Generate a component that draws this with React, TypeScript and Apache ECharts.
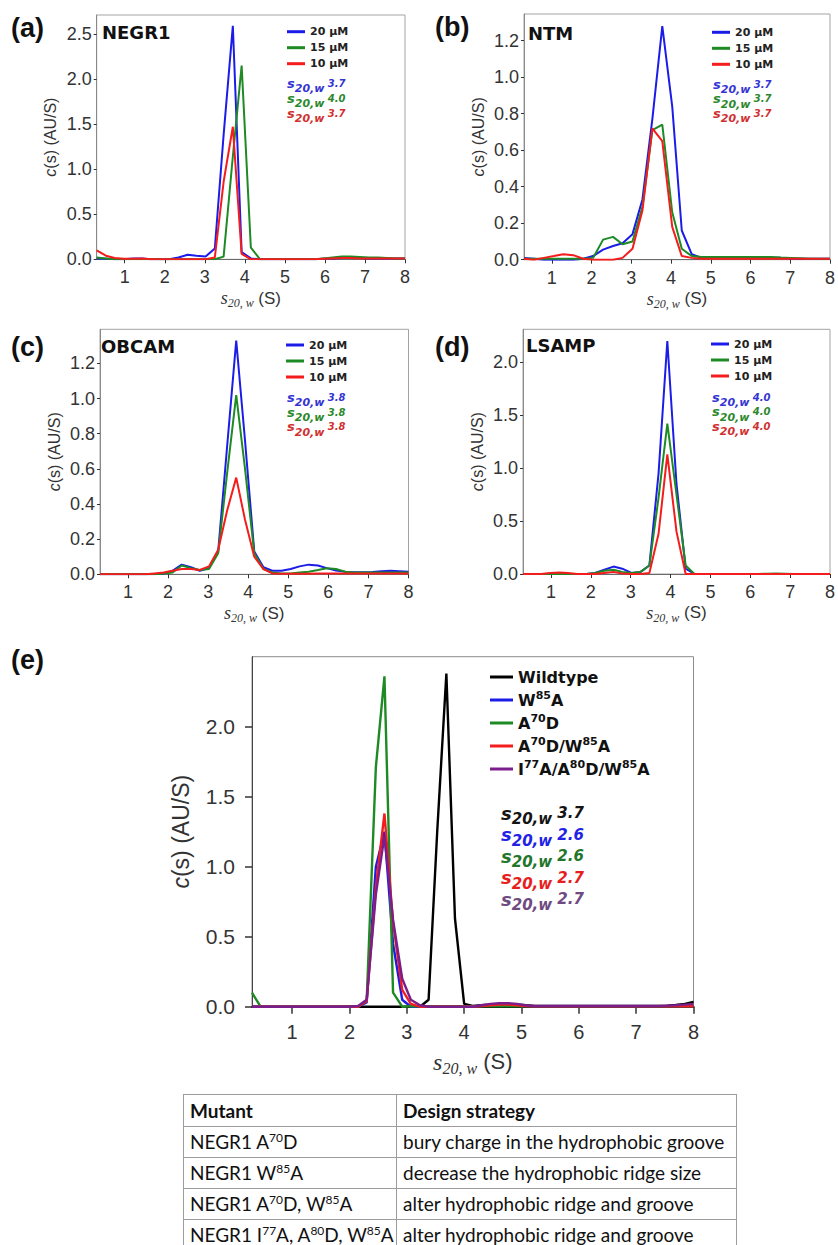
import React, { useEffect, useRef } from 'react';
import * as echarts from 'echarts';

// ---------- sedimentation-coefficient grids (S) ----------
const sGridFine = [0.30,0.53,0.75,0.98,1.21,1.43,1.66,1.89,2.11,2.34,2.57,2.79,3.02,3.25,3.47,3.70,3.92,4.15,4.38,4.60,4.83,5.06,5.28,5.51,5.74,5.96,6.19,6.42,6.64,6.87,7.10,7.32,7.55,7.77,8.00];
const sGridNtm = [0.30,0.55,0.80,1.05,1.29,1.54,1.79,2.04,2.29,2.54,2.78,3.03,3.28,3.53,3.78,4.03,4.27,4.52,4.77,5.02,5.27,5.52,5.76,6.01,6.26,6.51,6.76,7.01,7.25,7.50,7.75,8.00];
const sGridMut = [0.30,0.45,0.61,0.76,0.92,1.07,1.22,1.38,1.53,1.69,1.84,1.99,2.15,2.30,2.46,2.61,2.76,2.92,3.07,3.23,3.38,3.53,3.69,3.84,4.00,4.15,4.30,4.46,4.61,4.77,4.92,5.07,5.23,5.38,5.54,5.69,5.84,6.00,6.15,6.31,6.46,6.61,6.77,6.92,7.08,7.23,7.38,7.54,7.69,7.85,8.00];

// ---------- (a) NEGR1 ----------
const negr1_20 = [0.01,0.005,0,0,0.01,0.01,0,0,0,0.02,0.05,0.04,0.03,0.12,1.38,2.59,0.08,0.01,0,0,0,0,0,0,0,0.005,0.01,0.015,0.015,0.015,0.01,0.01,0.01,0.01,0.01];
const negr1_15 = [0.02,0.01,0,0,0,0,0,0,0,0,0,0,0,0,0.03,1.14,2.15,0.13,0,0,0,0,0,0,0,0.01,0.02,0.03,0.03,0.025,0.02,0.02,0.015,0.01,0.01];
const negr1_10 = [0.1,0.04,0.015,0.005,0.005,0.01,0,0,0,0,0,0,0,0.02,0.86,1.47,0.06,0,0,0,0,0,0,0,0,0.005,0.01,0.015,0.015,0.01,0.01,0.01,0.01,0.01,0.01];

// ---------- (b) NTM ----------
const ntm_20 = [0.01,0.005,0,0,0,0,0.005,0.02,0.055,0.075,0.09,0.14,0.33,0.77,1.28,0.84,0.16,0.03,0.01,0.01,0.01,0.01,0.01,0.01,0.01,0.01,0.01,0.005,0.005,0.005,0.005,0.005];
const ntm_15 = [0.005,0.005,0.005,0.005,0.005,0.005,0.005,0.01,0.11,0.125,0.085,0.1,0.29,0.71,0.74,0.26,0.06,0.02,0.015,0.015,0.015,0.015,0.015,0.015,0.015,0.015,0.012,0.01,0.008,0.005,0.005,0.005];
const ntm_10 = [0.005,0,0.01,0.02,0.03,0.025,0.005,0,0,0,0.01,0.06,0.27,0.72,0.65,0.18,0.02,0.01,0.005,0.005,0.005,0.005,0.005,0.005,0.005,0.005,0.005,0.005,0.005,0.005,0.005,0.005];

// ---------- (c) OBCAM ----------
const obcam_20 = [0,0,0,0,0,0,0.002,0.005,0.02,0.055,0.04,0.02,0.035,0.13,0.72,1.33,0.76,0.13,0.04,0.02,0.02,0.03,0.045,0.055,0.05,0.035,0.022,0.015,0.012,0.012,0.013,0.018,0.02,0.018,0.015];
const obcam_15 = [0,0,0,0,0,0,0,0.005,0.01,0.05,0.035,0.025,0.03,0.12,0.57,1.02,0.6,0.12,0.03,0.01,0.005,0.005,0.01,0.015,0.025,0.035,0.03,0.015,0.01,0.01,0.01,0.01,0.01,0.01,0.01];
const obcam_10 = [0,0,0,0,0,0,0.005,0.01,0.02,0.03,0.03,0.025,0.045,0.14,0.36,0.55,0.31,0.1,0.03,0.005,0.003,0.003,0.003,0.003,0.005,0.005,0.005,0.005,0.005,0.005,0.005,0.005,0.005,0.005,0.005];

// ---------- (d) LSAMP ----------
const lsamp_20 = [0,0,0,0,0,0,0,0,0.01,0.04,0.07,0.05,0.01,0.02,0.08,0.95,2.2,0.85,0.05,0,0,0,0,0,0,0,0,0,0,0,0,0,0,0,0];
const lsamp_15 = [0,0,0,0,0,0,0,0,0.01,0.03,0.04,0.02,0.01,0.02,0.08,0.72,1.42,0.75,0.08,0,0,0,0,0,0,0,0,0.003,0.005,0.003,0,0,0,0,0];
const lsamp_10 = [0,0,0,0.01,0.015,0.01,0,0,0,0.01,0.02,0.005,0,0,0.01,0.38,1.13,0.4,0,0,0,0,0,0,0,0,0,0,0,0,0,0,0,0,0];

// ---------- (e) NEGR1 mutants ----------
const wildtype = [0,0,0,0,0,0,0,0,0,0,0,0,0,0,0,0,0,0,0,0,0.05,1.25,2.38,0.63,0.02,0.005,0.01,0.015,0.02,0.02,0.015,0.01,0.005,0.005,0.005,0.005,0.005,0.005,0.005,0.005,0.005,0.005,0.005,0.005,0.005,0.005,0.005,0.008,0.012,0.02,0.035];
const w85a = [0,0,0,0,0,0,0,0,0,0,0,0,0,0.03,1.0,1.25,0.45,0.05,0,0,0,0,0,0,0,0,0.005,0.01,0.015,0.015,0.01,0.005,0.003,0.003,0.003,0.003,0.003,0.003,0.003,0.003,0.003,0.003,0.003,0.003,0.003,0.003,0.003,0.003,0.003,0.003,0.003];
const a70d = [0.1,0,0,0,0,0,0,0,0,0,0,0,0,0.04,1.71,2.36,0.1,0,0.003,0.003,0.003,0.003,0.003,0.003,0.003,0.003,0.003,0.003,0.003,0.003,0.003,0.003,0.003,0.003,0.003,0.003,0.003,0.003,0.003,0.003,0.003,0.003,0.003,0.003,0.003,0.003,0.003,0.003,0.003,0.003,0.003];
const a70d_w85a = [0,0,0,0,0,0,0,0,0,0,0,0,0,0.04,0.85,1.38,0.6,0.12,0.02,0,0,0,0,0,0,0,0.005,0.01,0.015,0.015,0.01,0.005,0.003,0.003,0.003,0.003,0.003,0.003,0.003,0.003,0.003,0.003,0.003,0.003,0.003,0.003,0.003,0.003,0.003,0.003,0.003];
const i77a_a80d_w85a = [0,0,0,0,0,0,0,0,0,0,0,0,0.005,0.05,0.8,1.22,0.62,0.2,0.05,0.01,0,0,0,0,0,0,0.01,0.02,0.025,0.025,0.02,0.01,0.005,0.005,0.005,0.005,0.005,0.005,0.005,0.005,0.005,0.005,0.005,0.005,0.005,0.005,0.005,0.008,0.01,0.015,0.02];

// ---------- ticks, labels ----------
const xTicks = [1, 2, 3, 4, 5, 6, 7, 8];
const yTicksA = [0, 0.5, 1, 1.5, 2, 2.5];
const yTicksB = [0, 0.2, 0.4, 0.6, 0.8, 1.0, 1.2];
const yTicksC = [0, 0.2, 0.4, 0.6, 0.8, 1.0, 1.2];
const yTicksD = [0, 0.5, 1, 1.5, 2];
const yTicksE = [0, 0.5, 1, 1.5, 2];

const concNames = ['20 μM', '15 μM', '10 μM'];
const mutantNames = ['Wildtype', 'W85A', 'A70D', 'A70D/W85A', 'I77A/A80D/W85A'];
const mutantLegendRich: Record<string, string> = {
  'Wildtype': 'Wildtype',
  'W85A': 'W{sup|85}A',
  'A70D': 'A{sup|70}D',
  'A70D/W85A': 'A{sup|70}D/W{sup|85}A',
  'I77A/A80D/W85A': 'I{sup|77}A/A{sup|80}D/W{sup|85}A',
};
const s20a = ['3.7', '4.0', '3.7'];
const s20b = ['3.7', '3.7', '3.7'];
const s20c = ['3.8', '3.8', '3.8'];
const s20d = ['4.0', '4.0', '4.0'];
const s20e = ['3.7', '2.6', '2.6', '2.7', '2.7'];

const tableHeader = ['Mutant', 'Design strategy'];
const tableMutants = [
  ['NEGR1 A', '^70', 'D'],
  ['NEGR1 W', '^85', 'A'],
  ['NEGR1 A', '^70', 'D, W', '^85', 'A'],
  ['NEGR1 I', '^77', 'A, A', '^80', 'D, W', '^85', 'A'],
];
const tableStrategies = [
  'bury charge in the hydrophobic groove',
  'decrease the hydrophobic ridge size',
  'alter hydrophobic ridge and groove',
  'alter hydrophobic ridge and groove',
];

// ---------- styles ----------
const C = { blue: '#1c1ce8', green: '#1e8a24', red: '#f41c1c', black: '#000000', purple: '#7a1e8c' };
const ANN = { blue: '#3434d2', green: '#2c882c', red: '#d03030', black: '#141414', purple: '#6e4a80', blueE: '#2222e6', greenE: '#22762a', redE: '#e61e1e' };
const SANS = 'Liberation Sans, Arial, sans-serif';
const VERD = 'DejaVu Sans, Verdana, sans-serif';
const SERIF = 'Liberation Serif, Times New Roman, serif';

type PanelSeries = { name: string; data: number[]; color: string };
type Panel = {
  big: boolean;
  grid: { left: number; top: number; width: number; height: number };
  ymax: number;
  yTicks: number[];
  xs: number[];
  series: PanelSeries[];
  legend: { left: number; top: number };
  ann: { x: number; y0: number; dy: number; values: string[]; colors: string[] };
  tag: { text: string; x: number; y: number };
  title?: { text: string; x: number; y: number };
};

const panels: Panel[] = [
  {
    big: false, grid: { left: 96.7, top: 15, width: 308.3, height: 244.3 }, ymax: 2.71, yTicks: yTicksA, xs: sGridFine,
    series: [
      { name: concNames[0], data: negr1_20, color: C.blue },
      { name: concNames[1], data: negr1_15, color: C.green },
      { name: concNames[2], data: negr1_10, color: C.red },
    ],
    legend: { left: 287, top: 24.7 },
    ann: { x: 287, y0: 83, dy: 15, values: s20a, colors: [ANN.blue, ANN.green, ANN.red] },
    tag: { text: '(a)', x: 11, y: 27.5 }, title: { text: 'NEGR1', x: 102, y: 32.5 },
  },
  {
    big: false, grid: { left: 524, top: 14, width: 309, height: 245.7 }, ymax: 1.346, yTicks: yTicksB, xs: sGridNtm,
    series: [
      { name: concNames[0], data: ntm_20, color: C.blue },
      { name: concNames[1], data: ntm_15, color: C.green },
      { name: concNames[2], data: ntm_10, color: C.red },
    ],
    legend: { left: 712, top: 25.3 },
    ann: { x: 713, y0: 84, dy: 14.5, values: s20b, colors: [ANN.blue, ANN.green, ANN.red] },
    tag: { text: '(b)', x: 435, y: 26.5 }, title: { text: 'NTM', x: 528, y: 33 },
  },
  {
    big: false, grid: { left: 100, top: 329.3, width: 308.5, height: 245 }, ymax: 1.394, yTicks: yTicksC, xs: sGridFine,
    series: [
      { name: concNames[0], data: obcam_20, color: C.blue },
      { name: concNames[1], data: obcam_15, color: C.green },
      { name: concNames[2], data: obcam_10, color: C.red },
    ],
    legend: { left: 286, top: 338 },
    ann: { x: 287, y0: 397.3, dy: 14.7, values: s20c, colors: [ANN.blue, ANN.green, ANN.red] },
    tag: { text: '(c)', x: 11, y: 346.5 }, title: { text: 'OBCAM', x: 101, y: 346 },
  },
  {
    big: false, grid: { left: 523, top: 329.3, width: 309, height: 244.7 }, ymax: 2.31, yTicks: yTicksD, xs: sGridFine,
    series: [
      { name: concNames[0], data: lsamp_20, color: C.blue },
      { name: concNames[1], data: lsamp_15, color: C.green },
      { name: concNames[2], data: lsamp_10, color: C.red },
    ],
    legend: { left: 711, top: 337 },
    ann: { x: 712, y0: 397.3, dy: 14.4, values: s20d, colors: [ANN.blue, ANN.green, ANN.red] },
    tag: { text: '(d)', x: 435, y: 347 }, title: { text: 'LSAMP', x: 526, y: 345.5 },
  },
  {
    big: true, grid: { left: 252, top: 656.7, width: 441.5, height: 350 }, ymax: 2.5, yTicks: yTicksE, xs: sGridMut,
    series: [
      { name: mutantNames[0], data: wildtype, color: C.black },
      { name: mutantNames[1], data: w85a, color: C.blue },
      { name: mutantNames[2], data: a70d, color: C.green },
      { name: mutantNames[3], data: a70d_w85a, color: C.red },
      { name: mutantNames[4], data: i77a_a80d_w85a, color: C.purple },
    ],
    legend: { left: 490, top: 667 },
    ann: { x: 501, y0: 813, dy: 21.5, values: s20e, colors: [ANN.black, ANN.blueE, ANN.greenE, ANN.redE, ANN.purple] },
    tag: { text: '(e)', x: 11, y: 660 },
  },
];

function buildOption() {
  const grid = panels.map((p) => ({
    left: p.grid.left, top: p.grid.top, width: p.grid.width, height: p.grid.height,
    show: true, borderColor: p.big ? '#8c8c8c' : '#a3a3a3', borderWidth: 1, backgroundColor: 'transparent',
  }));

  const xAxis = panels.map((p, i) => ({
    type: 'value', gridIndex: i, min: 0.3, max: 8,
    axisLine: { show: true, onZero: false, lineStyle: { color: p.big ? '#000' : '#6a6a6a', width: p.big ? 2 : 1 } },
    axisTick: { show: true, customValues: xTicks, length: p.big ? 7 : 4, lineStyle: { color: '#333', width: p.big ? 1.5 : 1 } },
    axisLabel: { customValues: xTicks, fontSize: p.big ? 20 : 18, color: '#333', margin: p.big ? 15 : 9, fontFamily: SANS },
    splitLine: { show: false },
    name: '{s|s}{sub|20, w} (S)', nameLocation: 'middle', nameGap: p.big ? 40 : 27,
    nameTextStyle: {
      fontFamily: SANS, fontSize: p.big ? 22 : 17, color: '#333', lineHeight: p.big ? 30 : 22,
      rich: {
        s: { fontFamily: SERIF, fontStyle: 'italic', fontSize: p.big ? 24 : 18, color: '#333', lineHeight: p.big ? 30 : 22 },
        sub: { fontFamily: SERIF, fontStyle: 'italic', fontSize: p.big ? 16 : 12, height: p.big ? 16 : 12, verticalAlign: 'bottom', color: '#333', lineHeight: p.big ? 30 : 22 },
      },
    },
  }));

  const yAxis = panels.map((p, i) => ({
    type: 'value', gridIndex: i, min: 0, max: p.ymax,
    axisLine: { show: true, onZero: false, lineStyle: { color: p.big ? '#444' : '#8a8a8a', width: 1 } },
    axisTick: { show: true, customValues: p.yTicks, length: p.big ? 7 : 3, lineStyle: { color: '#333', width: p.big ? 1.5 : 1 } },
    axisLabel: { customValues: p.yTicks, formatter: (v: number) => v.toFixed(1), fontSize: p.big ? 21 : 18, color: '#333', margin: p.big ? 17 : 5, fontFamily: SANS },
    splitLine: { show: false },
    name: '{i|c}(s) (AU/S)', nameLocation: 'middle', nameGap: p.big ? 54 : 36,
    nameTextStyle: {
      fontFamily: SANS, fontSize: p.big ? 23 : 16, color: '#333', lineHeight: p.big ? 28 : 20,
      rich: { i: { fontFamily: SANS, fontStyle: 'italic', fontSize: p.big ? 23 : 16, color: '#333', lineHeight: p.big ? 28 : 20 } },
    },
  }));

  const series: any[] = [];
  panels.forEach((p, i) => {
    p.series.forEach((s) => {
      series.push({
        type: 'line', name: s.name, xAxisIndex: i, yAxisIndex: i,
        data: p.xs.map((x, k) => [x, s.data[k]]),
        showSymbol: false, symbol: 'none', color: s.color,
        lineStyle: { color: s.color, width: p.big ? 2.4 : 2 }, clip: true,
      });
    });
  });

  const legend: any[] = panels.map((p) => p.big
    ? {
      orient: 'vertical', left: p.legend.left, top: p.legend.top, data: mutantNames, icon: 'rect',
      itemWidth: 23, itemHeight: 3, itemGap: 3, padding: 0, selectedMode: false,
      formatter: (n: string) => mutantLegendRich[n],
      textStyle: {
        fontFamily: VERD, fontWeight: 'bold', fontSize: 16, lineHeight: 20, color: '#111',
        rich: { sup: { fontFamily: VERD, fontWeight: 'bold', fontSize: 11, height: 11, verticalAlign: 'top', color: '#111', lineHeight: 20 } },
      },
    }
    : {
      orient: 'vertical', left: p.legend.left, top: p.legend.top, data: concNames, icon: 'rect',
      itemWidth: 18, itemHeight: 3, itemGap: 2, padding: 0, selectedMode: false,
      textStyle: { fontFamily: VERD, fontWeight: 'bold', fontSize: 11, lineHeight: 14, color: '#222' },
    });

  const graphic: any[] = [];
  panels.forEach((p) => {
    graphic.push({
      type: 'text', x: p.tag.x, y: p.tag.y, silent: true,
      style: { text: p.tag.text, fontFamily: SANS, fontWeight: 'bold', fontSize: 27, fill: '#111', verticalAlign: 'middle', textVerticalAlign: 'middle' },
    });
    if (p.title) {
      graphic.push({
        type: 'text', x: p.title.x, y: p.title.y, silent: true,
        style: { text: p.title.text, fontFamily: VERD, fontWeight: 'bold', fontSize: 18, fill: '#111', verticalAlign: 'middle', textVerticalAlign: 'middle' },
      });
    }
    const big = p.big;
    const L = big ? 27 : 22;
    const fs = big ? 18 : 13;
    const fsub = big ? 15 : 11;
    const fv = big ? 15 : 10;
    p.ann.values.forEach((val, r) => {
      const col = p.ann.colors[r];
      graphic.push({
        type: 'text', x: p.ann.x, y: p.ann.y0 + r * p.ann.dy, silent: true,
        style: {
          text: `{s|s}{sub|20,w}{v| ${val}}`, verticalAlign: 'middle', textVerticalAlign: 'middle', align: 'left',
          lineHeight: L, fontFamily: VERD, fontSize: fs, fill: col,
          rich: {
            s: { fontFamily: VERD, fontWeight: 'bold', fontStyle: 'italic', fontSize: fs, fill: col, lineHeight: L },
            sub: { fontFamily: VERD, fontWeight: 'bold', fontStyle: 'italic', fontSize: fsub, height: fsub, verticalAlign: 'bottom', fill: col, lineHeight: L },
            v: { fontFamily: VERD, fontWeight: 'bold', fontStyle: 'italic', fontSize: fv, fill: col, lineHeight: L },
          },
        },
      });
    });
  });

  return {
    animation: false,
    backgroundColor: '#ffffff',
    textStyle: { fontFamily: SANS },
    grid, xAxis, yAxis, series, legend, graphic,
  };
}

function renderParts(parts: string[]) {
  return parts.map((t, i) =>
    t.startsWith('^')
      ? <span key={i} style={{ fontSize: 12, position: 'relative', top: -7, lineHeight: 0 }}>{t.slice(1)}</span>
      : <span key={i}>{t}</span>
  );
}

export default function App() {
  const ref = useRef<HTMLDivElement>(null);
  useEffect(() => {
    if (!ref.current) return;
    const chart = echarts.init(ref.current, undefined, { renderer: 'svg' });
    chart.setOption(buildOption() as any);
    return () => chart.dispose();
  }, []);

  const cellBase: React.CSSProperties = {
    border: '1px solid #9c9c9c', padding: '0 6px', boxSizing: 'border-box', whiteSpace: 'nowrap',
    verticalAlign: 'middle', lineHeight: '22px',
  };

  return (
    <div style={{ position: 'absolute', left: 0, top: 0, width: 838, height: 1245, background: '#fff', overflow: 'hidden' }}>
      <div ref={ref} style={{ position: 'absolute', left: 0, top: 0, width: 838, height: 1245 }} />
      <table
        style={{
          position: 'absolute', left: 183, top: 1094, borderCollapse: 'collapse', tableLayout: 'fixed',
          fontFamily: 'Lato, "Open Sans", sans-serif', fontSize: 19, color: '#111', width: 553,
        }}
      >
        <tbody>
          <tr style={{ height: 32 }}>
            <td style={{ ...cellBase, width: 213, fontWeight: 'bold' }}>{tableHeader[0]}</td>
            <td style={{ ...cellBase, width: 340, fontWeight: 'bold' }}>{tableHeader[1]}</td>
          </tr>
          {tableMutants.map((m, i) => (
            <tr key={i} style={{ height: 31 }}>
              <td style={cellBase}>{renderParts(m)}</td>
              <td style={cellBase}>{tableStrategies[i]}</td>
            </tr>
          ))}
        </tbody>
      </table>
    </div>
  );
}
